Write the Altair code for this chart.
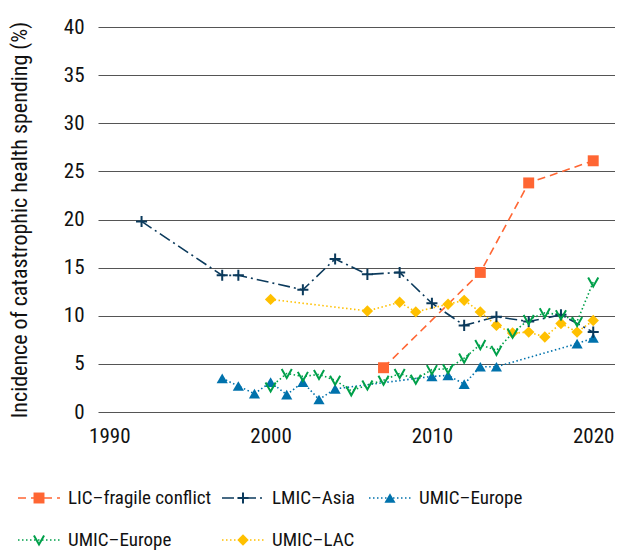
import altair as alt
import pandas as pd

# ---------------- data ----------------
series_keys = ["LIC", "LMIC", "UMIC_EU_A", "UMIC_EU_B", "UMIC_LAC"]
series_labels = ["LIC–fragile conflict", "LMIC–Asia", "UMIC–Europe", "UMIC–Europe", "UMIC–LAC"]

lic_years = [2007, 2013, 2016, 2020]
lic_values = [4.6, 14.5, 23.8, 26.1]

lmic_years = [1992, 1997, 1998, 2002, 2004, 2006, 2008, 2010, 2012, 2014, 2016, 2018, 2020]
lmic_values = [19.8, 14.2, 14.2, 12.7, 15.9, 14.3, 14.5, 11.3, 9.0, 9.9, 9.4, 10.1, 8.3]

eu_a_years = [1997, 1998, 1999, 2000, 2001, 2002, 2003, 2004, 2010, 2011, 2012, 2013, 2014, 2019, 2020]
eu_a_values = [3.5, 2.7, 1.9, 3.1, 1.8, 3.1, 1.3, 2.4, 3.7, 3.8, 2.9, 4.7, 4.7, 7.1, 7.7]

eu_b_years = [2000, 2001, 2002, 2003, 2004, 2005, 2006, 2007, 2008, 2009, 2010,
              2011, 2012, 2013, 2014, 2015, 2016, 2017, 2018, 2019, 2020]
eu_b_values = [2.6, 4.0, 3.7, 3.9, 3.3, 2.2, 2.8, 3.3, 4.0, 3.4, 4.4,
               4.5, 5.6, 7.0, 6.4, 8.2, 9.6, 10.3, 10.1, 9.4, 13.5]

lac_years = [2000, 2006, 2008, 2009, 2011, 2012, 2013, 2014, 2015, 2016, 2017, 2018, 2019, 2020]
lac_values = [11.7, 10.5, 11.4, 10.4, 11.2, 11.6, 10.4, 9.0, 8.2, 8.3, 7.8, 9.2, 8.3, 9.5]

x_ticks = [1990, 2000, 2010, 2020]
y_ticks = [0, 5, 10, 15, 20, 25, 30, 35, 40]

# ---------------- styles ----------------
FONT = "Liberation Sans Narrow, Roboto Condensed, Roboto, sans-serif"
colors = ["#FF6633", "#0B3A5C", "#0072AC", "#00A04A", "#FFC000"]
dashes = [[8, 5], [12, 4, 2, 4], [1.5, 2.5], [1.5, 2.5], [1.5, 2.5]]
shapes = ["square", "M-1,0L1,0M0,-1L0,1", "triangle-up", "M-0.9,-0.8L0,0.8L0.9,-0.8", "diamond"]
sizes = [120, 130, 150, 110, 190]
filled_keys = ["LIC", "UMIC_EU_A", "UMIC_LAC"]
stroked_keys = ["LMIC", "UMIC_EU_B"]

W, H = 517, 385

rows = []
for key, yrs, vals in [("LIC", lic_years, lic_values), ("LMIC", lmic_years, lmic_values),
                       ("UMIC_EU_A", eu_a_years, eu_a_values), ("UMIC_EU_B", eu_b_years, eu_b_values),
                       ("UMIC_LAC", lac_years, lac_values)]:
    for yr, v in zip(yrs, vals):
        rows.append({"series": key, "year": yr, "value": v})
df = pd.DataFrame(rows)

color_scale = alt.Scale(domain=series_keys, range=colors)
dash_scale = alt.Scale(domain=series_keys, range=dashes)
shape_scale = alt.Scale(domain=series_keys, range=shapes)
size_scale = alt.Scale(domain=series_keys, range=sizes)

x_enc = alt.X("year:Q", scale=alt.Scale(domain=[1989.3, 2021.35], nice=False, zero=False),
              axis=alt.Axis(values=x_ticks, format="d", grid=False, domain=False, ticks=False,
                            labelPadding=13, labelFontSize=21, title=None))
y_enc = alt.Y("value:Q", scale=alt.Scale(domain=[0, 40], nice=False),
              axis=alt.Axis(values=y_ticks, grid=True, domain=False, ticks=False,
                            labelPadding=14, labelFontSize=21,
                            title="Incidence of catastrophic health spending (%)",
                            titleFontSize=22, titleFontWeight="normal", titlePadding=32))

base = alt.Chart(df)
lines = base.mark_line(strokeWidth=1.6).encode(
    x=x_enc, y=y_enc,
    color=alt.Color("series:N", scale=color_scale, legend=None),
    strokeDash=alt.StrokeDash("series:N", scale=dash_scale, legend=None),
)
pts_filled = base.transform_filter(alt.FieldOneOfPredicate(field="series", oneOf=filled_keys)).mark_point(
    filled=True, opacity=1).encode(
    x="year:Q", y="value:Q",
    color=alt.Color("series:N", scale=color_scale, legend=None),
    shape=alt.Shape("series:N", scale=shape_scale, legend=None),
    size=alt.Size("series:N", scale=size_scale, legend=None),
)
pts_stroked = base.transform_filter(alt.FieldOneOfPredicate(field="series", oneOf=stroked_keys)).mark_point(
    filled=False, opacity=1, strokeWidth=2).encode(
    x="year:Q", y="value:Q",
    color=alt.Color("series:N", scale=color_scale, legend=None),
    shape=alt.Shape("series:N", scale=shape_scale, legend=None),
    size=alt.Size("series:N", scale=size_scale, legend=None),
)
main = alt.layer(lines, pts_filled, pts_stroked)

# ---------------- manual legend (pixel layout relative to plot origin) ----------------
col_x = [-80, 124, 271]
row_y = [471, 513]
seg_len = 42
leg_rows, leg_line_rows = [], []
for i, (key, lab) in enumerate(zip(series_keys, series_labels)):
    c, r = i % 3, i // 3
    x0 = col_x[c]
    leg_rows.append({"series": key, "label": lab, "mx": x0 + seg_len / 2, "tx": x0 + 50, "ly": row_y[r]})
    leg_line_rows.append({"series": key, "lx": x0, "ly": row_y[r]})
    leg_line_rows.append({"series": key, "lx": x0 + seg_len, "ly": row_y[r]})
leg_df = pd.DataFrame(leg_rows)
leg_line_df = pd.DataFrame(leg_line_rows)

lx_scale = alt.Scale(domain=[0, W], nice=False, zero=False)
ly_scale = alt.Scale(domain=[H, 0], nice=False, zero=False)

leg_lines = alt.Chart(leg_line_df).mark_line(strokeWidth=1.6).encode(
    x=alt.X("lx:Q", scale=lx_scale, axis=None),
    y=alt.Y("ly:Q", scale=ly_scale, axis=None),
    detail="series:N",
    color=alt.Color("series:N", scale=color_scale, legend=None),
    strokeDash=alt.StrokeDash("series:N", scale=dash_scale, legend=None),
)
leg_pf = alt.Chart(leg_df).transform_filter(alt.FieldOneOfPredicate(field="series", oneOf=filled_keys)).mark_point(
    filled=True, opacity=1).encode(
    x=alt.X("mx:Q", scale=lx_scale, axis=None),
    y=alt.Y("ly:Q", scale=ly_scale, axis=None),
    color=alt.Color("series:N", scale=color_scale, legend=None),
    shape=alt.Shape("series:N", scale=shape_scale, legend=None),
    size=alt.Size("series:N", scale=size_scale, legend=None),
)
leg_ps = alt.Chart(leg_df).transform_filter(alt.FieldOneOfPredicate(field="series", oneOf=stroked_keys)).mark_point(
    filled=False, opacity=1, strokeWidth=2).encode(
    x=alt.X("mx:Q", scale=lx_scale, axis=None),
    y=alt.Y("ly:Q", scale=ly_scale, axis=None),
    color=alt.Color("series:N", scale=color_scale, legend=None),
    shape=alt.Shape("series:N", scale=shape_scale, legend=None),
    size=alt.Size("series:N", scale=size_scale, legend=None),
)
leg_text = alt.Chart(leg_df).mark_text(align="left", baseline="middle", fontSize=19, font=FONT, color="#111").encode(
    x=alt.X("tx:Q", scale=lx_scale, axis=None),
    y=alt.Y("ly:Q", scale=ly_scale, axis=None),
    text="label:N",
)
legend = alt.layer(leg_lines, leg_pf, leg_ps, leg_text)

chart = alt.layer(main, legend).resolve_scale(x="independent", y="independent").properties(
    width=W, height=H,
    padding={"left": 0, "top": 8, "right": 0, "bottom": 0},
).configure_view(stroke=None).configure_axis(
    labelFont=FONT, titleFont=FONT, labelColor="#111", titleColor="#111",
    gridColor="#555", gridWidth=1,
)

chart.save("out.html", embed_options={"renderer": "svg", "actions": False})
